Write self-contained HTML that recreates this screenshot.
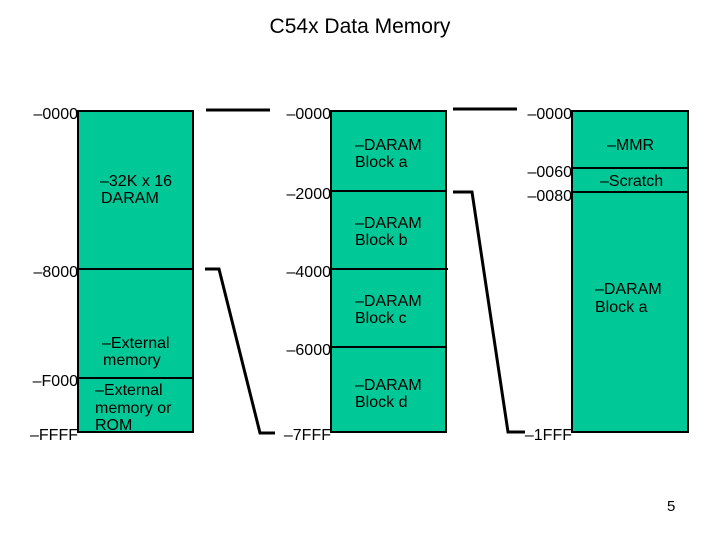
<!DOCTYPE html>
<html><head><meta charset="utf-8"><style>
html,body{margin:0;padding:0;background:#fff;}
svg{display:block;}
text{font-family:"Liberation Sans",Arial,sans-serif;fill:#000;}
</style></head><body>
<svg width="720" height="540" viewBox="0 0 720 540" xmlns="http://www.w3.org/2000/svg">
<text x="360" y="33" font-size="21" text-anchor="middle">C54x Data Memory</text>
<g fill="#00c896" stroke="#000" stroke-width="2">
<rect x="78" y="111" width="115" height="321"/>
<rect x="331" y="111" width="115" height="321"/>
<rect x="572" y="111" width="116" height="321"/>
</g>
<g stroke="#000" stroke-width="2" fill="none">
<line x1="78" y1="269" x2="193" y2="269"/>
<line x1="78" y1="378" x2="193" y2="378"/>
<line x1="331" y1="191" x2="446" y2="191"/>
<line x1="331" y1="269" x2="448" y2="269"/>
<line x1="331" y1="347" x2="446" y2="347"/>
<line x1="572" y1="168" x2="688" y2="168"/>
<line x1="572" y1="192" x2="688" y2="192"/>
</g>
<g stroke="#000" stroke-width="3" fill="none">
<line x1="206" y1="110" x2="270" y2="110"/>
<polyline points="205,269 219,269 260,433 275,433"/>
<line x1="453" y1="109" x2="517" y2="109"/>
<polyline points="453,192 472,192 508,432 525,432"/>
</g>
<g font-size="16" text-anchor="end">
<text x="78" y="119">–0000</text>
<text x="78" y="277">–8000</text>
<text x="78" y="386">–F000</text>
<text x="78" y="440">–FFFF</text>
<text x="331" y="119">–0000</text>
<text x="331" y="199">–2000</text>
<text x="331" y="277">–4000</text>
<text x="331" y="355">–6000</text>
<text x="331" y="440">–7FFF</text>
<text x="572" y="119">–0000</text>
<text x="572" y="177">–0060</text>
<text x="572" y="201">–0080</text>
<text x="572" y="440">–1FFF</text>
</g>
<g font-size="16">
<text x="100" y="186">–32K x 16</text>
<text x="101" y="203">DARAM</text>
<text x="102" y="348">–External</text>
<text x="103" y="365">memory</text>
<text x="95" y="395">–External</text>
<text x="95" y="413">memory or</text>
<text x="95" y="430">ROM</text>
<text x="355" y="150">–DARAM</text>
<text x="355" y="167">Block a</text>
<text x="355" y="228">–DARAM</text>
<text x="355" y="245">Block b</text>
<text x="355" y="306">–DARAM</text>
<text x="355" y="323">Block c</text>
<text x="355" y="390">–DARAM</text>
<text x="355" y="407">Block d</text>
<text x="607" y="150">–MMR</text>
<text x="600" y="186">–Scratch</text>
<text x="595" y="294">–DARAM</text>
<text x="595" y="312">Block a</text>
</g>
<text x="667" y="511" font-size="15">5</text>
</svg>
</body></html>
